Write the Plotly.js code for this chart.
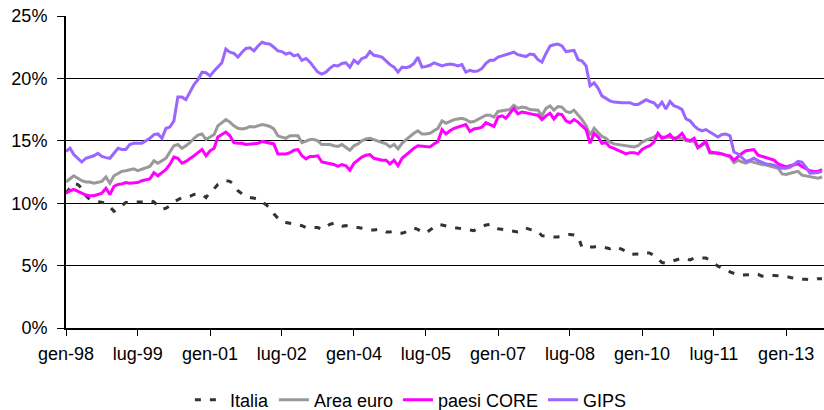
<!DOCTYPE html>
<html>
<head>
<meta charset="utf-8">
<script src="https://cdn.plot.ly/plotly-3.0.1.min.js"></script>
<style>html,body{margin:0;padding:0;background:#fff}#chart{width:824px;height:410px}</style>
</head>
<body>
<div id="chart"></div>
<script>
// Monthly series, from gen-98 (Jan 1998) to ott-13 (Oct 2013)
var startYear = 1998, startMonth = 1;

var italia = [10.8,11.2,11.6,11.5,11.2,10.6,10.3,10.2,10.15,10.1,10.0,9.7,9.35,9.6,9.85,10.05,10.05,10.1,10.1,10.1,
10.15,10.2,10.1,9.8,9.5,9.6,9.8,10.1,10.3,10.45,10.5,10.55,10.7,10.75,10.7,10.45,10.9,11.15,11.5,11.7,
11.8,11.75,11.5,11.0,10.75,10.55,10.45,10.4,10.35,10.1,9.9,9.6,9.15,8.8,8.5,8.45,8.4,8.35,8.3,8.2,
8.05,8.05,8.05,8.05,7.9,8.1,8.3,8.4,8.2,8.15,8.2,8.1,8.1,8.05,8.0,7.9,7.85,7.85,7.9,7.85,
7.7,7.7,7.75,7.65,7.6,7.7,7.8,8.0,7.9,7.7,7.6,7.85,8.1,8.3,8.25,8.15,8.1,8.05,8.0,7.9,
7.85,7.8,7.8,8.0,8.15,8.25,8.3,8.05,7.95,7.9,7.8,7.75,7.7,7.7,7.75,8.0,7.9,7.8,7.75,7.4,
7.35,7.3,7.3,7.3,7.35,7.45,7.5,7.45,7.35,6.45,6.5,6.5,6.5,6.55,6.5,6.45,6.35,6.5,6.45,6.3,
6.15,5.9,5.9,5.95,5.95,6.05,6.0,5.8,5.55,5.25,5.2,5.3,5.4,5.45,5.6,5.55,5.45,5.6,5.6,5.6,
5.6,5.45,5.2,4.95,4.8,4.7,4.5,4.35,4.25,4.25,4.25,4.25,4.3,4.3,4.15,4.2,4.2,4.2,4.2,4.2,
4.15,4.05,4.0,3.95,3.9,3.9,3.85,3.85,3.95,3.95];

var areaEuro = [11.7,12.0,12.2,12.0,11.8,11.7,11.7,11.6,11.65,11.75,12.1,11.6,12.2,12.4,12.55,12.6,12.65,12.75,12.6,12.7,
12.85,12.95,13.4,13.2,13.4,13.6,14.1,14.6,14.7,14.4,14.6,14.85,15.2,15.45,15.55,15.1,15.3,15.5,16.2,16.45,
16.7,16.5,16.2,16.0,15.95,16.0,16.15,16.1,16.2,16.3,16.25,16.15,15.95,15.4,15.3,15.2,15.4,15.4,15.4,14.85,
14.95,15.1,15.1,15.0,14.7,14.7,14.7,14.6,14.55,14.7,14.5,14.25,14.6,14.75,15.0,15.15,15.2,15.1,15.0,14.9,
14.75,14.5,14.7,14.35,14.8,15.1,15.35,15.6,15.8,15.55,15.55,15.6,15.8,16.0,16.6,16.4,16.55,16.7,16.75,16.8,
16.7,16.5,16.55,16.7,16.85,17.05,17.05,16.9,17.35,17.4,17.4,17.5,17.85,17.6,17.7,17.65,17.5,17.5,17.45,17.0,
17.6,17.8,17.45,17.75,17.7,17.35,17.25,17.45,17.05,16.7,16.2,15.45,16.0,15.65,15.35,15.2,14.9,14.75,14.7,14.6,
14.55,14.5,14.5,14.6,14.9,15.05,15.15,15.3,15.5,15.3,15.3,15.3,15.25,15.2,15.2,15.0,14.95,14.95,14.45,14.6,
14.8,14.0,14.05,14.05,13.95,13.8,13.7,13.25,13.45,13.3,13.2,13.35,13.25,13.15,13.1,13.05,12.95,12.9,12.8,12.35,
12.3,12.4,12.5,12.55,12.25,12.2,12.15,12.1,12.0,12.1];

var paesiCore = [10.8,11.0,11.1,10.95,10.8,10.65,10.6,10.6,10.7,10.8,11.2,10.7,11.35,11.5,11.55,11.65,11.6,11.6,11.65,11.8,
11.9,11.95,12.45,12.2,12.45,12.7,13.1,13.7,13.6,13.2,13.35,13.55,13.8,14.05,14.3,13.8,14.2,14.4,15.3,15.5,
15.7,15.4,14.85,14.8,14.8,14.7,14.75,14.75,14.8,14.95,14.9,14.85,14.75,13.95,13.95,13.95,14.05,14.25,14.3,13.8,
13.55,13.75,13.75,13.8,13.3,13.25,13.2,13.1,12.95,13.1,13.0,12.65,13.2,13.45,13.7,13.85,13.9,13.6,13.5,13.45,
13.45,13.15,13.45,13.0,13.6,13.9,14.15,14.4,14.6,14.55,14.5,14.5,14.75,14.95,15.9,15.55,15.8,16.0,16.1,16.2,
16.3,15.75,15.95,16.0,16.1,16.45,16.3,16.15,16.9,17.0,16.8,17.2,17.6,17.15,17.3,17.25,17.15,17.1,17.05,16.7,
17.0,17.2,16.75,17.15,17.1,16.6,16.45,16.7,16.5,16.2,15.9,14.8,15.6,15.3,14.8,14.85,14.5,14.4,14.25,14.1,
13.95,14.05,14.05,13.95,14.3,14.5,14.6,14.9,15.6,15.2,15.3,15.5,15.1,15.3,15.6,15.1,15.0,15.2,14.45,14.7,
14.95,14.1,14.05,14.05,13.95,13.85,13.8,13.45,13.75,14.0,14.2,14.25,14.3,13.85,13.75,13.7,13.6,13.45,13.15,13.0,
12.9,13.0,13.1,13.15,12.95,12.75,12.6,12.55,12.55,12.7];

var gips = [14.15,14.4,13.9,13.6,13.3,13.6,13.7,13.8,14.0,13.75,13.65,13.6,14.0,14.4,14.3,14.3,14.7,14.8,14.8,14.8,
15.0,15.2,15.5,15.55,15.2,16.0,16.1,16.6,18.5,18.5,18.3,18.9,19.5,19.9,20.5,20.45,20.2,20.6,20.9,21.25,
22.35,22.1,22.0,21.7,22.1,22.4,22.45,22.2,22.6,22.9,22.8,22.75,22.5,22.2,22.15,21.95,22.05,21.8,21.9,21.45,
21.6,21.3,20.9,20.5,20.35,20.5,20.8,21.05,21.0,21.2,21.25,20.9,21.45,21.2,21.6,21.7,22.15,21.85,21.8,21.7,
21.4,21.1,20.9,20.5,20.9,20.85,20.95,21.2,21.7,20.9,20.95,21.05,21.25,21.1,21.0,21.1,21.15,21.1,21.0,21.1,
20.5,20.65,20.55,20.6,20.8,21.2,21.45,21.45,21.7,21.8,21.9,22.0,22.1,21.9,21.8,21.75,21.95,21.9,21.5,21.3,
22.0,22.6,22.7,22.75,22.6,22.15,22.2,22.25,21.5,21.4,21.0,19.4,19.65,19.2,18.6,18.4,18.2,18.1,18.05,18.05,
18.05,18.05,17.9,17.9,18.1,18.3,18.15,18.05,17.7,18.1,17.55,18.15,17.8,17.7,17.5,16.75,16.6,16.2,15.95,15.8,
15.9,15.7,15.45,15.3,15.5,15.55,15.4,14.1,13.95,13.6,13.35,13.45,13.6,13.4,13.25,13.15,13.1,13.05,12.9,12.8,
12.8,12.9,13.1,13.35,13.3,12.9,12.4,12.4,12.45,12.55];

var seriesNames = ["Italia", "Area euro", "paesi CORE", "GIPS"];
var tickDates = ["1998-01-01","1999-07-01","2001-01-01","2002-07-01","2004-01-01","2005-07-01",
                 "2007-01-01","2008-07-01","2010-01-01","2011-07-01","2013-01-01"];
var tickLabels = ["gen-98","lug-99","gen-01","lug-02","gen-04","lug-05","gen-07","lug-08","gen-10","lug-11","gen-13"];
var yTickVals = [0, 5, 10, 15, 20, 25];
var yTickLabels = ["0%", "5%", "10%", "15%", "20%", "25%"];

function monthDates(n) {
  var out = [];
  for (var i = 0; i < n; i++) {
    var m = startMonth - 1 + i;
    var y = startYear + Math.floor(m / 12);
    var mm = (m % 12) + 1;
    out.push(y + "-" + (mm < 10 ? "0" + mm : mm) + "-01");
  }
  return out;
}
var dates = monthDates(gips.length);

var traces = [
  {x: dates, y: italia, name: seriesNames[0], type: "scatter", mode: "lines",
   line: {color: "#333333", width: 3, dash: "6px,9px"}},
  {x: dates, y: areaEuro, name: seriesNames[1], type: "scatter", mode: "lines",
   line: {color: "#999999", width: 3}},
  {x: dates, y: paesiCore, name: seriesNames[2], type: "scatter", mode: "lines",
   line: {color: "#FF00FF", width: 3}},
  {x: dates, y: gips, name: seriesNames[3], type: "scatter", mode: "lines",
   line: {color: "#9966FF", width: 3}}
];

var layout = {
  width: 824, height: 410,
  margin: {l: 66, r: 0, t: 16, b: 82, pad: 0, autoexpand: false},
  paper_bgcolor: "#ffffff", plot_bgcolor: "#ffffff",
  font: {family: "Liberation Sans, Arial, sans-serif", size: 18, color: "#000000"},
  showlegend: true,
  legend: {orientation: "h", x: 0.455, xanchor: "center", y: -0.231, yanchor: "middle",
           font: {size: 18}, itemwidth: 30, tracegroupgap: 0},
  xaxis: {type: "date", range: ["1998-01-01", "2013-10-16"],
          tickmode: "array", tickvals: tickDates, ticktext: tickLabels,
          ticks: "outside", ticklen: 6, tickwidth: 1, tickcolor: "#000",
          showline: true, linecolor: "#000", linewidth: 2, showgrid: false, zeroline: false,
          ticklabelstandoff: 2, tickfont: {size: 18}},
  yaxis: {range: [0, 25], tickmode: "array", tickvals: yTickVals, ticktext: yTickLabels,
          ticks: "outside", ticklen: 7, tickwidth: 1, tickcolor: "#000",
          showline: true, linecolor: "#000", linewidth: 2,
          showgrid: true, gridcolor: "#000000", gridwidth: 1, zeroline: false,
          ticklabelstandoff: 6, tickfont: {size: 18}}
};

Plotly.newPlot("chart", traces, layout, {displayModeBar: false, staticPlot: true});
</script>
</body>
</html>
